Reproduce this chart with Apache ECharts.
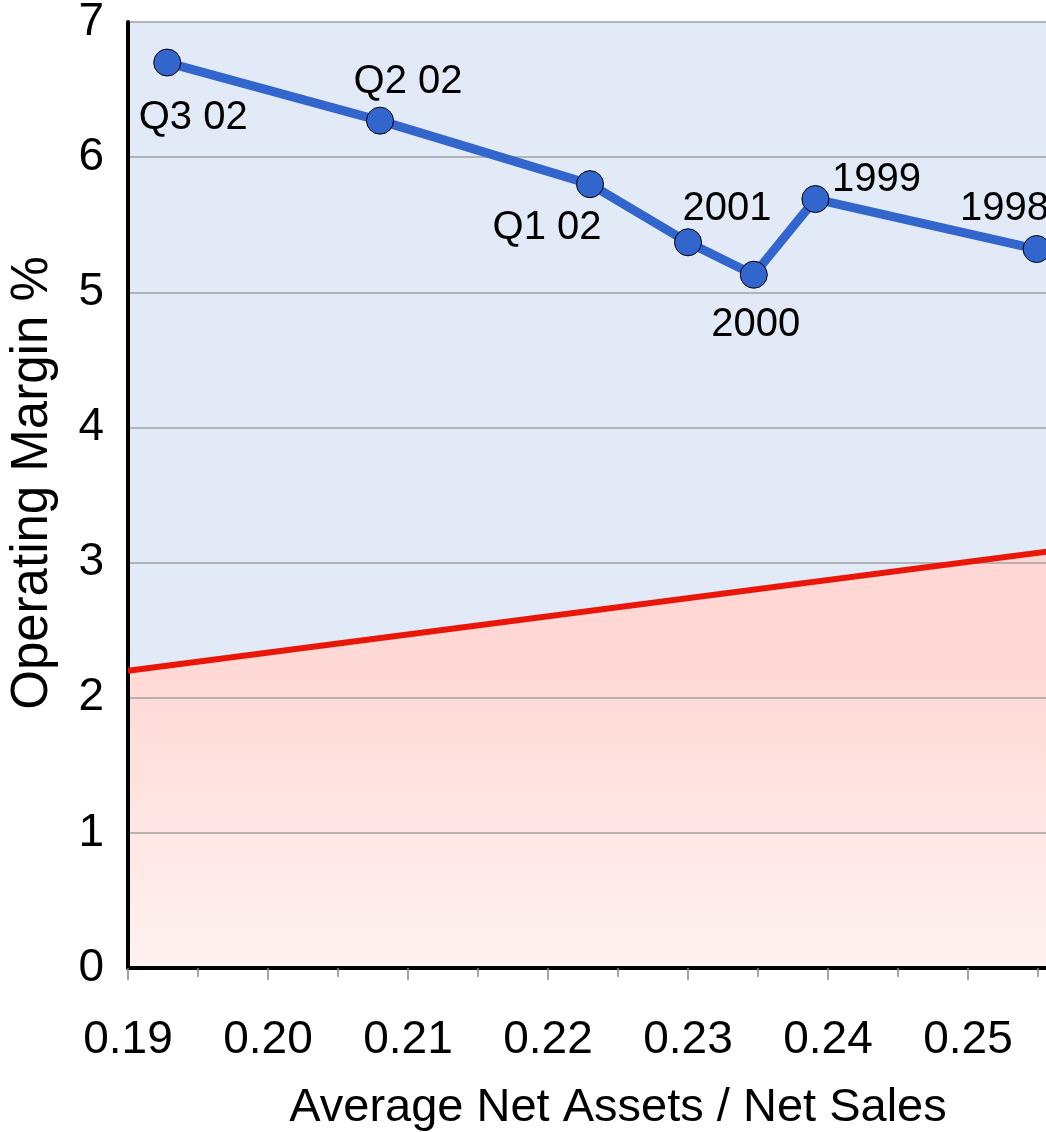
<!DOCTYPE html>
<html>
<head>
<meta charset="utf-8">
<script src="https://cdn.jsdelivr.net/npm/echarts@6/dist/echarts.min.js"></script>
<style>html,body{margin:0;padding:0;background:#fff;overflow:hidden}#c{width:1046px;height:1132px}</style>
</head>
<body>
<div id="c"></div>
<script>
// Data
const pointLabels = ['Q3 02', 'Q2 02', 'Q1 02', '2001', '2000', '1999', '1998'];
const assetsToSales = [0.1928, 0.2080, 0.2230, 0.2300, 0.2347, 0.2391, 0.2549];
const operatingMargin = [6.70, 6.27, 5.80, 5.37, 5.13, 5.69, 5.32];
const hurdleX = [0.19, 0.26];
const hurdleY = [2.20, 3.14];
const xTicks = [0.19, 0.20, 0.21, 0.22, 0.23, 0.24, 0.25, 0.26];
const yTicks = [0, 1, 2, 3, 4, 5, 6, 7];

// Label layout (styling only)
const labelOffsets = [[26, 55], [28, -39], [-43, 44], [39, -33], [2, 50], [61, -19], [-32, -40]];

const FONT = 'Helvetica, "Liberation Sans", Arial, sans-serif';
const chart = echarts.init(document.getElementById('c'));

const mainData = assetsToSales.map((x, i) => ({
  value: [x, operatingMargin[i]],
  name: pointLabels[i],
  label: { offset: labelOffsets[i] }
}));
const hurdleData = hurdleX.map((x, i) => [x, hurdleY[i]]);

chart.setOption({
  animation: false,
  backgroundColor: '#fff',
  grid: {
    left: 128, right: -62, top: 22, bottom: 164,
    containLabel: false, outerBoundsMode: 'none',
    show: true, backgroundColor: '#e3eaf7', borderWidth: 0
  },
  xAxis: [{
    type: 'value',
    min: xTicks[0], max: xTicks[xTicks.length - 1], interval: 0.01,
    z: 2,
    name: 'Average Net Assets / Net Sales',
    nameLocation: 'middle', nameGap: 117,
    nameTextStyle: { fontSize: 47, color: '#000', fontFamily: FONT },
    axisLine: { show: true, onZero: false, lineStyle: { color: '#000', width: 4 } },
    axisTick: { show: true, length: 12, lineStyle: { color: '#888', width: 1.5 } },
    minorTick: { show: true, splitNumber: 2, length: 9, lineStyle: { color: '#888', width: 1.5 } },
    axisLabel: { fontSize: 46, color: '#000', fontFamily: FONT, margin: 49,
      formatter: v => v.toFixed(2) },
    splitLine: { show: false }
  }, {
    type: 'value', position: 'top',
    min: xTicks[0], max: xTicks[xTicks.length - 1], interval: 0.01,
    z: 2,
    axisLine: { show: true, lineStyle: { color: '#000', width: 2 } },
    axisTick: { show: false }, axisLabel: { show: false }, splitLine: { show: false }
  }],
  yAxis: {
    type: 'value',
    min: yTicks[0], max: yTicks[yTicks.length - 1], interval: 1,
    z: 2,
    name: 'Operating Margin %',
    nameLocation: 'middle', nameGap: 70, nameRotate: 90,
    nameTextStyle: { fontSize: 51, color: '#000', fontFamily: FONT, padding: [0, 0, 0, 24] },
    axisLine: { show: true, lineStyle: { color: '#000', width: 4 } },
    axisTick: { show: false },
    axisLabel: { fontSize: 46, color: '#000', fontFamily: FONT, margin: 24 },
    splitLine: { show: true, lineStyle: { color: '#a0a0a0', width: 1.5 } }
  },
  series: [{
    type: 'line',
    z: 1,
    data: hurdleData,
    symbol: 'none',
    lineStyle: { width: 0 },
    areaStyle: {
      opacity: 1,
      color: new echarts.graphic.LinearGradient(0, 0, 0, 1, [
        { offset: 0, color: '#ffd6d3' },
        { offset: 0.3, color: '#ffd9d6' },
        { offset: 1, color: '#fff2f1' }
      ])
    },
    silent: true
  }, {
    type: 'line',
    z: 3,
    data: hurdleData,
    symbol: 'none',
    lineStyle: { width: 6, color: '#e8170a' },
    silent: true
  }, {
    type: 'line',
    z: 4,
    data: mainData,
    symbol: 'circle',
    symbolSize: 27,
    lineStyle: { width: 9, color: '#3366cc' },
    itemStyle: { color: '#3366cc', borderColor: '#000', borderWidth: 1 },
    label: {
      show: true, position: 'inside',
      formatter: p => p.name,
      fontSize: 40, color: '#000', fontFamily: FONT
    }
  }]
});
</script>
</body>
</html>
